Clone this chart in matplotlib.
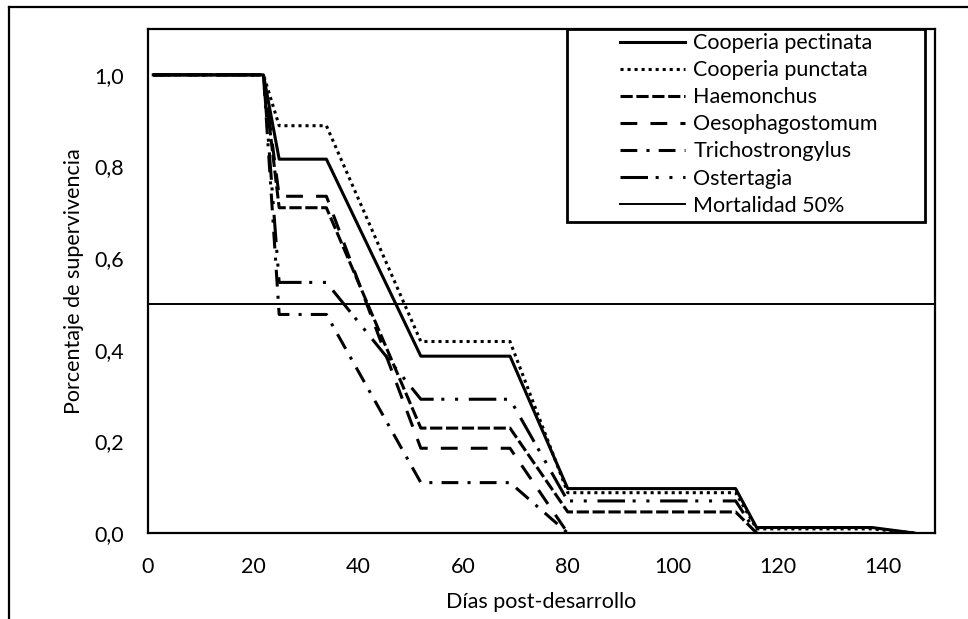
import matplotlib

matplotlib.use('Agg')

import matplotlib.pyplot as plt
from matplotlib.lines import Line2D
from matplotlib.patches import Rectangle
from matplotlib.ticker import FuncFormatter

plt.rcParams['font.family'] = ['Lato', 'DejaVu Sans']

# survival curves
days_cooperia = [1, 22, 25, 34, 52, 69, 80, 112, 116, 138, 146]
cooperia_pectinata = [1.0, 1.0, 0.816, 0.816, 0.386, 0.386, 0.097, 0.097, 0.012, 0.012, 0.0]
cooperia_punctata = [1.0, 1.0, 0.889, 0.889, 0.418, 0.418, 0.088, 0.088, 0.009, 0.009, 0.0]

days_long = [1, 22, 25, 34, 52, 69, 80, 112, 116]
haemonchus = [1.0, 1.0, 0.71, 0.71, 0.229, 0.229, 0.046, 0.046, 0.0]
ostertagia = [1.0, 1.0, 0.547, 0.547, 0.292, 0.292, 0.07, 0.07, 0.0]

days_short = [1, 22, 25, 34, 52, 69, 80]
oesophagostomum = [1.0, 1.0, 0.735, 0.735, 0.185, 0.185, 0.0]
trichostrongylus = [1.0, 1.0, 0.477, 0.477, 0.11, 0.11, 0.0]

mortality_level = 0.5
x_ticks = [0, 20, 40, 60, 80, 100, 120, 140]
y_ticks = [0.0, 0.2, 0.4, 0.6, 0.8, 1.0]

fig = plt.figure(figsize=(9.68, 6.19), dpi=100)
ax = fig.add_axes([0.1529, 0.1389, 0.8130, 0.8142])

lw = 2.2
ax.plot(days_cooperia, cooperia_pectinata, color='black', lw=lw,
        linestyle='-', label='Cooperia pectinata')
ax.plot(days_cooperia, cooperia_punctata, color='black', lw=lw,
        linestyle=(0, (1, 1.3)), label='Cooperia punctata')
ax.plot(days_long, haemonchus, color='black', lw=lw,
        linestyle=(0, (4, 1.2)), label='Haemonchus')
ax.plot(days_short, oesophagostomum, color='black', lw=lw,
        linestyle=(0, (5.5, 4.3)), label='Oesophagostomum')
ax.plot(days_short, trichostrongylus, color='black', lw=lw,
        linestyle=(0, (5.5, 3, 1, 3)), label='Trichostrongylus')
ax.plot(days_long, ostertagia, color='black', lw=lw,
        linestyle=(0, (9, 2.5, 1, 3.5, 1, 3.5)), label='Ostertagia')
ax.axhline(mortality_level, color='black', lw=1.4, label='Mortalidad 50%')

ax.set_xlim(0, 150)
ax.set_ylim(0, 1.1)
ax.set_xticks(x_ticks)
ax.set_yticks(y_ticks)
ax.yaxis.set_major_formatter(FuncFormatter(lambda v, _: f'{v:.1f}'.replace('.', ',')))
ax.tick_params(length=0, labelsize=15.5, pad=17)
for side in ax.spines.values():
    side.set_linewidth(1.6)
    side.set_color('black')

ax.set_xlabel('Días post-desarrollo', fontsize=15.5, labelpad=11)
ax.set_ylabel('Porcentaje de supervivencia', fontsize=15.5, labelpad=8)

# legend box is wider than its content in the original, so frame drawn separately
ax.add_patch(Rectangle((0.532, 0.617), 0.455, 0.383, transform=ax.transAxes,
                       facecolor='white', edgecolor='black', lw=2, zorder=4))
leg = ax.legend(loc='upper left', bbox_to_anchor=(0.5997, 0.992), borderaxespad=0,
                fontsize=15.5, handlelength=3.0, handletextpad=0.4,
                labelspacing=0.33, frameon=False, borderpad=0)
leg.set_zorder(5)

# outer frame of the original picture
fig.add_artist(Line2D([9 / 968, 1.0], [1 - 7 / 619, 1 - 7 / 619], color='black', lw=1.6,
                      transform=fig.transFigure))
fig.add_artist(Line2D([9 / 968, 9 / 968], [0.0, 1 - 7 / 619], color='black', lw=1.6,
                      transform=fig.transFigure))

plt.savefig('out.png', dpi=100)
plt.close()
